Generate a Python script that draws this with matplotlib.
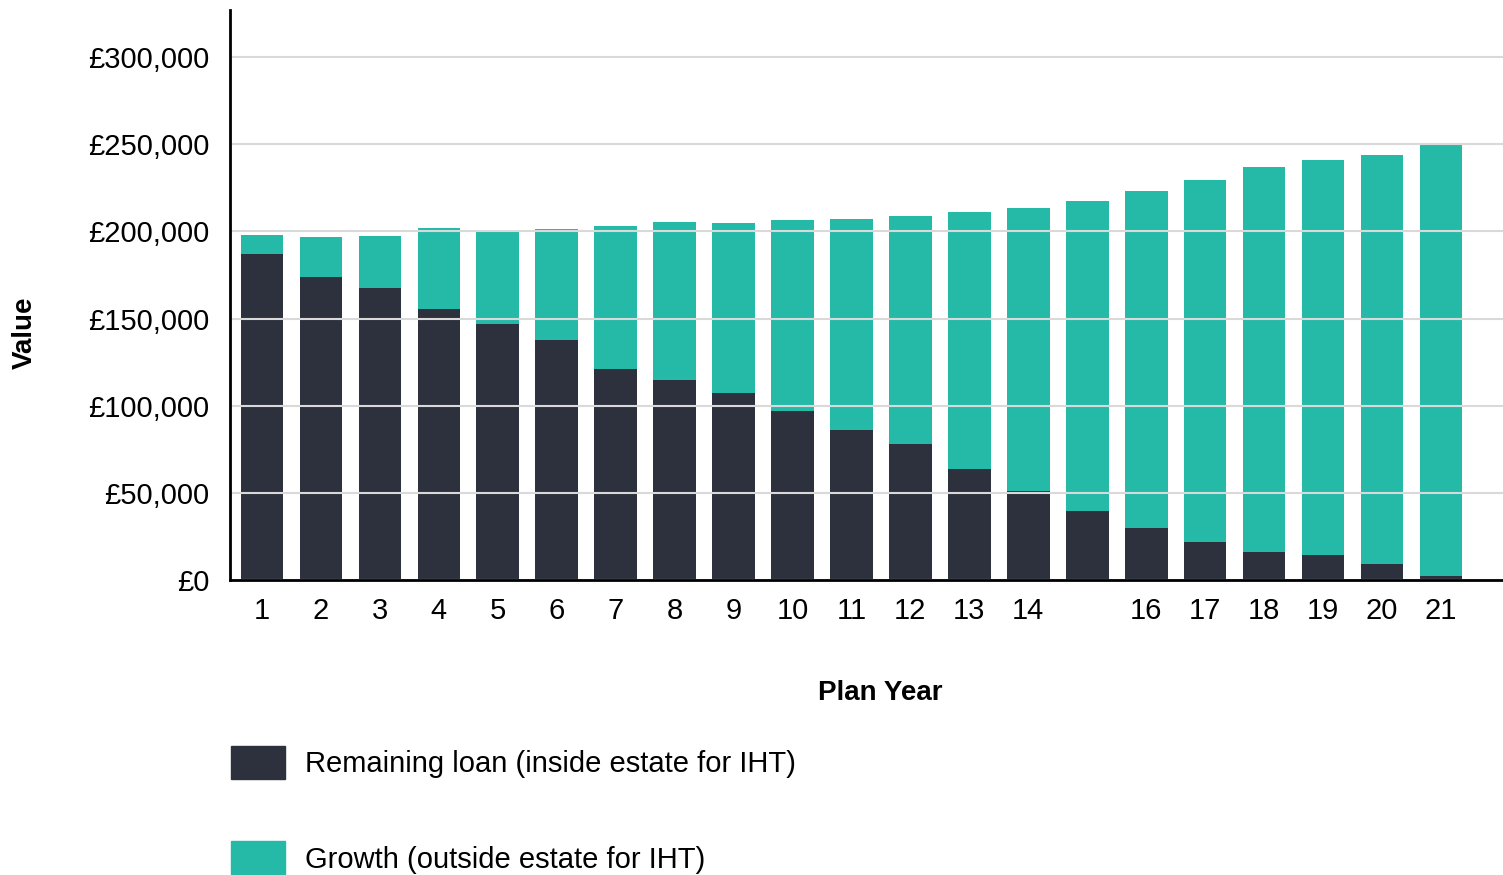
import matplotlib.pyplot as plt
from matplotlib.patches import Patch
from matplotlib.ticker import FuncFormatter

plt.rcParams['font.family'] = ['Liberation Sans', 'DejaVu Sans']

# data
years = list(range(1, 22))
year_labels = ['1', '2', '3', '4', '5', '6', '7', '8', '9', '10', '11', '12', '13', '14',
               '', '16', '17', '18', '19', '20', '21']
loan = [186800, 173600, 167800, 155200, 146600, 137900, 121300, 114900, 107500, 97100,
        86200, 78200, 63800, 51100, 39700, 29900, 21800, 16100, 14400, 9200, 2500]
total = [197700, 196600, 197100, 201700, 200600, 201100, 202900, 205200, 204600, 206300,
         206900, 208600, 210900, 213200, 217200, 223000, 229300, 236800, 240800, 243700, 250600]
growth = [t - l for t, l in zip(total, loan)]

dark = '#2d313d'
teal = '#25baa8'

fig = plt.figure(figsize=(15.03, 8.75), dpi=100)
ax = fig.add_axes([230 / 1503, 1 - 580 / 875, 1 - 230 / 1503, (580 - 10) / 875])

ax.bar(years, loan, width=0.72, color=dark, zorder=1)
ax.bar(years, growth, bottom=loan, width=0.72, color=teal, zorder=1)

ax.set_xlim(0.46, 22.05)
ax.set_ylim(0, 327000)
ax.set_yticks([0, 50000, 100000, 150000, 200000, 250000, 300000])
ax.yaxis.set_major_formatter(FuncFormatter(lambda v, p: '£{:,.0f}'.format(v)))
ax.set_xticks(years)
ax.set_xticklabels(year_labels)
ax.tick_params(axis='both', length=0, labelsize=21)
ax.tick_params(axis='y', pad=15)
ax.tick_params(axis='x', pad=12)

ax.grid(axis='y', color='#d9d9d9', linewidth=1.5, zorder=2)
ax.set_axisbelow(False)
for s in ['top', 'right']:
    ax.spines[s].set_visible(False)
ax.spines['left'].set_linewidth(2)
ax.spines['bottom'].set_linewidth(2)
ax.spines['left'].set_zorder(3)
ax.spines['bottom'].set_zorder(3)

fig.text(880 / 1503, 1 - 693 / 875, 'Plan Year', ha='center', va='center',
         fontsize=20, fontweight='bold')
fig.text(25 / 1503, 1 - 333 / 875, 'Value', ha='center', va='center',
         fontsize=20, fontweight='bold', rotation=90)

handles = [Patch(color=dark, label='Remaining loan (inside estate for IHT)'),
           Patch(color=teal, label='Growth (outside estate for IHT)')]
fig.legend(handles=handles, loc='upper left', bbox_to_anchor=(231 / 1503, 1 - 746 / 875),
           frameon=False, fontsize=21, handlelength=1.85, handleheight=1.35,
           handletextpad=0.7, labelspacing=2.15, borderpad=0, borderaxespad=0)

fig.savefig('out.png', dpi=100)
